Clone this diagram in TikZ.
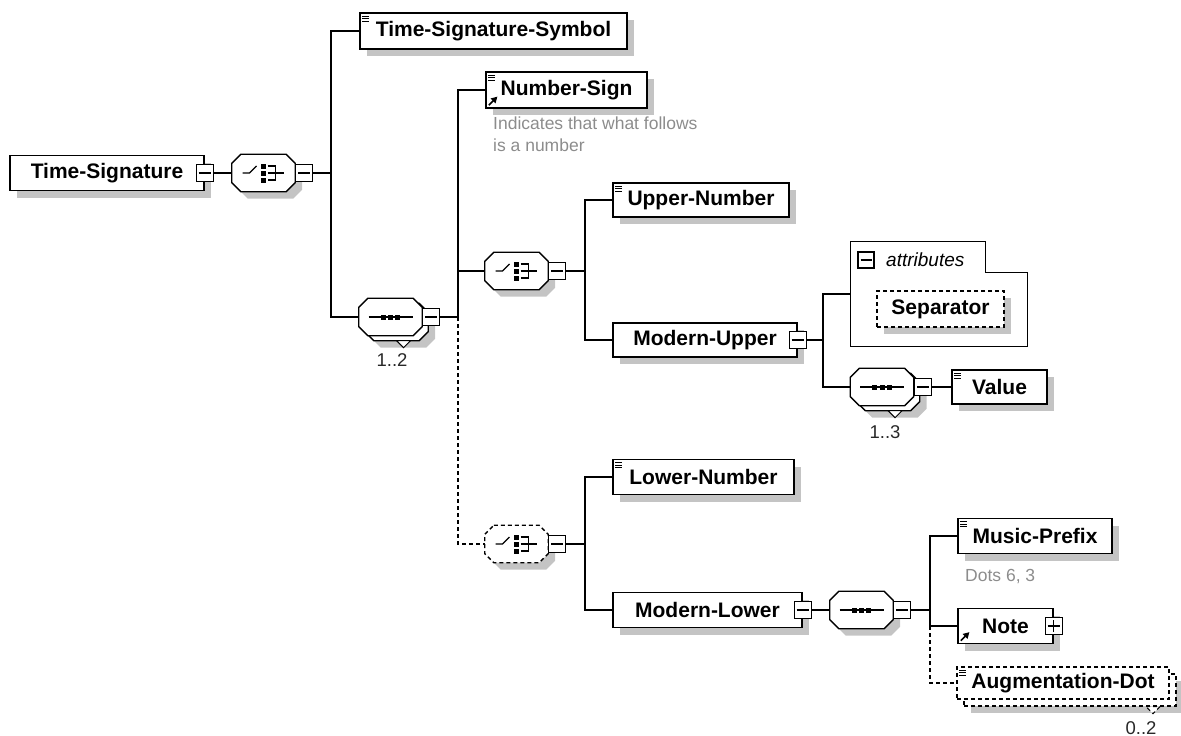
\documentclass[tikz,border=0pt]{standalone}
\usepackage{fontspec}
\setmainfont{Liberation Sans}
\usepackage{tikz}
\usetikzlibrary{shadows, arrows.meta, calc}
\definecolor{shadowgray}{RGB}{196,196,196}
\definecolor{descgray}{RGB}{140,140,140}
\definecolor{multgray}{RGB}{40,40,40}
\newcommand{\namefont}{\fontsize{21}{25}\selectfont\bfseries}
\newcommand{\descfont}{\fontsize{17.5}{21.5}\selectfont}
\newcommand{\attrfont}{\fontsize{19}{23}\selectfont\itshape}
\newcommand{\multfont}{\fontsize{18.5}{22}\selectfont}
% small marks inside element boxes
\newcommand{\docmark}[1]{\draw[line width=0.8pt]
  ([xshift=3pt,yshift=-4pt]#1.north west) -- ++(7pt,0pt)
  ([xshift=3pt,yshift=-6.5pt]#1.north west) -- ++(7pt,0pt)
  ([xshift=3pt,yshift=-9pt]#1.north west) -- ++(7pt,0pt);}
\newcommand{\refmark}[1]{\draw[line width=1.7pt, -{Triangle[length=6pt,width=6.5pt]}]
  ([xshift=3.5pt,yshift=3.5pt]#1.south west) -- ++(8.5pt,8.5pt);}
% compositor outline and icons
\newcommand{\octagon}[2][]{\path[octa,#1] ([xshift=9pt]#2.north west) -- ([xshift=-9pt]#2.north east)
  -- ([yshift=-9pt]#2.north east) -- ([yshift=9pt]#2.south east) -- ([xshift=-9pt]#2.south east)
  -- ([xshift=9pt]#2.south west) -- ([yshift=9pt]#2.south west) -- ([yshift=-9pt]#2.north west) -- cycle;}
\newcommand{\choicemark}[1]{
  \draw[line width=1.2pt] ([xshift=-21pt]#1.center) -- ([xshift=-14pt]#1.center) -- ([xshift=-7pt,yshift=7pt]#1.center);
  \fill[black] ([xshift=-2.5pt,yshift=4.5pt]#1.center) rectangle ++(5pt,5pt);
  \fill[black] ([xshift=-2.5pt,yshift=-2.5pt]#1.center) rectangle ++(5pt,5pt);
  \fill[black] ([xshift=-2.5pt,yshift=-9.5pt]#1.center) rectangle ++(5pt,5pt);
  \draw[line width=1.2pt] ([xshift=4pt,yshift=7pt]#1.center) -- ([xshift=12pt,yshift=7pt]#1.center)
    -- ([xshift=12pt,yshift=-7pt]#1.center) -- ([xshift=4pt,yshift=-7pt]#1.center)
    ([xshift=4pt]#1.center) -- ([xshift=20pt]#1.center);}
\newcommand{\seqmark}[1]{
  \draw[line width=1.2pt] ([xshift=-22pt]#1.center) -- ([xshift=22pt]#1.center);
  \fill[black] ([xshift=-9.8pt,yshift=-2.5pt]#1.center) rectangle ++(5pt,5pt);
  \fill[black] ([xshift=-2.5pt,yshift=-2.5pt]#1.center) rectangle ++(5pt,5pt);
  \fill[black] ([xshift=4.8pt,yshift=-2.5pt]#1.center) rectangle ++(5pt,5pt);}
\tikzset{
  shadowed/.style={drop shadow={shadow xshift=7pt, shadow yshift=-7pt, opacity=1, fill=shadowgray}},
  box/.style={rectangle, draw=black, fill=white, line width=1.3pt, inner sep=0pt, font=\namefont},
  elem/.style={box, shadowed},
  optional/.style={dash pattern=on 4pt off 3pt},
  comp/.style={rectangle, minimum width=63pt, minimum height=37pt, inner sep=0pt},
  octa/.style={draw=black, fill=white, line width=1.3pt},
  minusbox/.style={rectangle, draw=black, fill=white, line width=1.1pt, minimum size=17pt, inner sep=0pt,
    path picture={\draw[line width=1.1pt] ([xshift=2.5pt]path picture bounding box.west)
      -- ([xshift=-2.5pt]path picture bounding box.east);}},
  plusbox/.style={minusbox, path picture={\draw[line width=1.1pt]
      ([xshift=2.5pt]path picture bounding box.west) -- ([xshift=-2.5pt]path picture bounding box.east)
      ([yshift=2.5pt]path picture bounding box.south) -- ([yshift=-2.5pt]path picture bounding box.north);}},
  notch/.style={draw=black, fill=white, line width=1pt},
  link/.style={line width=1.3pt},
  optlink/.style={link, optional},
  mult/.style={font=\multfont, text=multgray, inner sep=0pt},
  desc/.style={font=\descfont, text=descgray, align=left, inner sep=0pt}
}

\begin{document}
\begin{tikzpicture}[x=1pt, y=-1pt]
  \useasboundingbox (0,0) rectangle (1181,736);

  % root and first choice
  \node[elem, minimum width=194pt, minimum height=35pt] (ts) at (107,173) {Time-Signature};
  \node[minusbox] (tsm) at (ts.east) {};
  \node[comp] (ch1) at (263.5,173) {};
  \octagon[shadowed]{ch1} \choicemark{ch1}
  \node[minusbox, anchor=west] (ch1m) at (ch1.east) {};
  \coordinate (j1) at (331,173);

  \node[elem, minimum width=267pt, minimum height=36pt] (tss) at (493.5,31) {Time-Signature-Symbol};
  \docmark{tss}

  % sequence 1..2
  \node[comp] (sq1b) at (396.5,322) {};
  \octagon[shadowed]{sq1b}
  \path[notch] (sq1b.south) -- ++(14pt,0pt) -- ++(-7pt,-7pt) -- cycle;
  \node[comp] (sq1) at (390.5,317) {};
  \octagon{sq1} \seqmark{sq1}
  \node[minusbox, anchor=west] (sq1m) at (sq1.east) {};
  \node[mult] (sq1n) at (392,360) {1..2};
  \coordinate (j2) at (458,317);

  \node[elem, minimum width=161pt, minimum height=36pt] (ns) at (566.5,90) {Number-Sign};
  \docmark{ns} \refmark{ns}
  \node[desc, anchor=north west] (nsdoc) at (493,117) {Indicates that what follows\\is a number};

  % upper part
  \node[comp] (ch2) at (516.5,271) {};
  \octagon[shadowed]{ch2} \choicemark{ch2}
  \node[minusbox, anchor=west] (ch2m) at (ch2.east) {};
  \coordinate (j3) at (585,271);
  \node[elem, minimum width=176pt, minimum height=34pt] (un) at (701,200) {Upper-Number};
  \docmark{un}
  \node[elem, minimum width=184pt, minimum height=34pt] (mu) at (705,340) {Modern-Upper};
  \node[minusbox] (mum) at (mu.east) {};
  \coordinate (j4) at (823,340);

  \node[rectangle, minimum width=176pt, minimum height=104pt] (attr) at (939,294) {};
  \draw[link] (attr.south west) -- (attr.north west) -- ([xshift=-42pt]attr.north east)
    -- ([xshift=-42pt,yshift=-31pt]attr.north east) -- ([yshift=-31pt]attr.north east)
    -- (attr.south east) -- cycle;
  \node[minusbox, minimum size=16pt] (attrm) at (866,260) {};
  \node[font=\attrfont, anchor=west, inner sep=0pt] (attrlbl) at (886,260) {attributes};
  \node[elem, optional, minimum width=127pt, minimum height=36pt] (sep) at (940.5,309) {Separator};

  \node[comp] (sq2b) at (888,392) {};
  \octagon[shadowed]{sq2b}
  \path[notch] (sq2b.south) -- ++(14pt,0pt) -- ++(-7pt,-7pt) -- cycle;
  \node[comp] (sq2) at (882,387) {};
  \octagon{sq2} \seqmark{sq2}
  \node[minusbox, anchor=west] (sq2m) at (sq2.east) {};
  \node[mult] (sq2n) at (885,432) {1..3};
  \node[elem, minimum width=95pt, minimum height=34pt] (val) at (999.5,387) {Value};
  \docmark{val}

  % lower part
  \node[comp] (ch3) at (516.5,544) {};
  \octagon[shadowed, optional]{ch3} \choicemark{ch3}
  \node[minusbox, anchor=west] (ch3m) at (ch3.east) {};
  \coordinate (j5) at (585,544);
  \node[elem, minimum width=181pt, minimum height=35pt] (ln) at (703.5,477) {Lower-Number};
  \docmark{ln}
  \node[elem, minimum width=189pt, minimum height=35pt] (ml) at (707.5,610) {Modern-Lower};
  \node[minusbox] (mlm) at (ml.east) {};
  \node[comp] (sq3) at (861.5,610) {};
  \octagon[shadowed]{sq3} \seqmark{sq3}
  \node[minusbox, anchor=west] (sq3m) at (sq3.east) {};
  \coordinate (j6) at (930,610);

  \node[elem, minimum width=154pt, minimum height=35pt] (mp) at (1035,536) {Music-Prefix};
  \docmark{mp}
  \node[desc, anchor=west] (mpdoc) at (965,577) {Dots 6, 3};
  \node[elem, minimum width=95pt, minimum height=35pt] (nt) at (1005.5,626) {Note\hspace{16pt}};
  \refmark{nt}
  \node[plusbox] (ntp) at (nt.east) {};

  \node[elem, optional, minimum width=212pt, minimum height=32pt] (adb) at (1070,690) {};
  \path[notch, optional] ([xshift=76pt]adb.south) -- ++(14pt,0pt) -- ++(-7pt,-7pt) -- cycle;
  \node[box, optional, minimum width=212pt, minimum height=32pt] (ad) at (1063,683) {Augmentation-Dot};
  \docmark{ad}
  \node[mult] (adn) at (1141,728) {0..2};

  % connectors
  \draw[link] (tsm) -- (ch1);
  \draw[link] (ch1m) -- (j1);
  \draw[link] (tss.west) -| (j1) |- (sq1.west);
  \draw[link] (sq1m) -- (j2);
  \draw[link] (ns.west) -| (j2);
  \draw[link] (j2 |- ch2.west) -- (ch2.west);
  \draw[optlink] (j2) |- (ch3.west);
  \draw[link] (ch2m) -- (j3);
  \draw[link] (un.west) -| (j3) |- (mu.west);
  \draw[link] (mum) -- (j4);
  \draw[link] (attr.west) -| (j4) |- (sq2.west);
  \draw[link] (sq2m) -- (val);
  \draw[link] (ch3m) -- (j5);
  \draw[link] (ln.west) -| (j5) |- (ml.west);
  \draw[link] (mlm) -- (sq3);
  \draw[link] (sq3m) -- (j6);
  \draw[link] (mp.west) -| (j6) |- (nt.west);
  \draw[optlink] (nt.west -| j6) |- (ad.west);
\end{tikzpicture}
\end{document}
